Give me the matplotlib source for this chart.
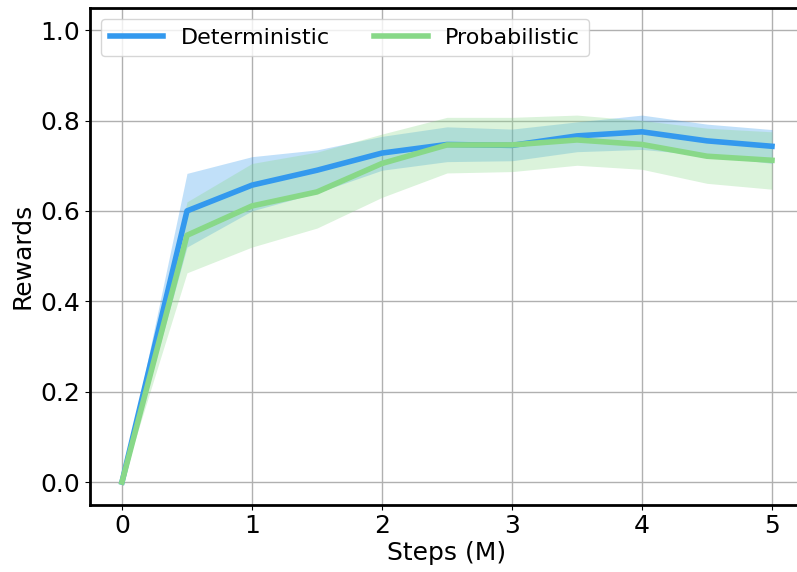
import matplotlib
matplotlib.use("Agg")
import matplotlib.pyplot as plt
import numpy as np

steps = [0, 0.5, 1, 1.5, 2, 2.5, 3, 3.5, 4, 4.5, 5]

det_mean = [0.0, 0.600, 0.657, 0.690, 0.728, 0.747, 0.745, 0.766, 0.775, 0.755, 0.743]
det_low = [0.0, 0.520, 0.600, 0.640, 0.690, 0.709, 0.711, 0.731, 0.736, 0.723, 0.705]
det_high = [0.0, 0.683, 0.720, 0.735, 0.765, 0.786, 0.781, 0.797, 0.812, 0.792, 0.780]

prob_mean = [0.0, 0.546, 0.611, 0.642, 0.705, 0.746, 0.746, 0.757, 0.747, 0.721, 0.712]
prob_low = [0.0, 0.463, 0.520, 0.562, 0.630, 0.684, 0.687, 0.701, 0.692, 0.661, 0.648]
prob_high = [0.0, 0.620, 0.705, 0.730, 0.770, 0.807, 0.807, 0.812, 0.800, 0.783, 0.775]

blue = "#3399ee"
green = "#88d888"

fig = plt.figure(figsize=(7.97, 5.72), dpi=100)
ax = fig.add_axes([0.1123, 0.1178, 0.8971, 0.869])

ax.fill_between(steps, det_low, det_high, color=blue, alpha=0.3, linewidth=0)
ax.fill_between(steps, prob_low, prob_high, color=green, alpha=0.3, linewidth=0)
ax.plot(steps, det_mean, color=blue, lw=4, label="Deterministic")
ax.plot(steps, prob_mean, color=green, lw=4, label="Probabilistic")

ax.set_xlim(-0.25, 5.25)
ax.set_ylim(-0.05, 1.05)
ax.set_xticks([0, 1, 2, 3, 4, 5])
ax.set_yticks([0.0, 0.2, 0.4, 0.6, 0.8, 1.0])
ax.set_yticklabels(["0.0", "0.2", "0.4", "0.6", "0.8", "1.0"])
ax.tick_params(labelsize=18)
ax.set_xlabel("Steps (M)", fontsize=18, labelpad=2)
ax.set_ylabel("Rewards", fontsize=18, labelpad=4)
ax.grid(True, color="#b0b0b0", lw=1)
ax.set_axisbelow(True)
for s in ax.spines.values():
    s.set_linewidth(2)

ax.legend(loc="upper left", ncol=2, fontsize=16, handlelength=2.4,
          columnspacing=2.0, borderaxespad=0.5, framealpha=0.8)

fig.savefig("out.png", dpi=100)
